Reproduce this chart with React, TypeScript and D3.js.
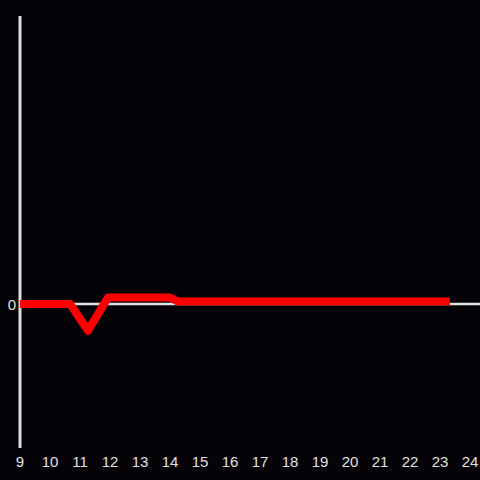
import React from "react";
import * as d3 from "d3";

const hours = [9, 10.67, 11.27, 11.93, 14.0, 14.27, 23.33];
const values = [0, 0, -0.185, 0.045, 0.045, 0.017, 0.017];
const xTicks = [9, 10, 11, 12, 13, 14, 15, 16, 17, 18, 19, 20, 21, 22, 23, 24];
const yTicks = [0];

export default function App() {
  const W = 480, H = 480;
  const x = d3.scaleLinear().domain([9, 24]).range([20, 470]);
  const y = d3.scaleLinear().domain([-1, 2]).range([448, 16]);
  const pts: [number, number][] = hours.map((h, i) => [h, values[i]]);
  const line = d3.line<[number, number]>().x(d => x(d[0])).y(d => y(d[1]));
  const axisColor = "#e0e0e0";
  return (
    <svg width={W} height={H} style={{ position: "fixed", left: 0, top: 0, background: "#050307" }}>
      <rect x={0} y={0} width={W} height={H} fill="#050307" />
      <line x1={20} x2={20} y1={16} y2={448} stroke={axisColor} strokeWidth={3} />
      <line x1={20} x2={480} y1={y(0)} y2={y(0)} stroke={axisColor} strokeWidth={2.5} />
      {xTicks.map(t => (
        <text key={t} x={x(t)} y={466.5} textAnchor="middle" fill={axisColor}
          fontFamily="'Liberation Sans', Arial, sans-serif" fontSize={15}>{t}</text>
      ))}
      {yTicks.map(t => (
        <text key={t} x={16} y={y(t) + 5.5} textAnchor="end" fill={axisColor}
          fontFamily="'Liberation Sans', Arial, sans-serif" fontSize={15}>{t}</text>
      ))}
      <path d={line(pts) || ""} fill="none" stroke="#ff0000" strokeWidth={8} strokeLinejoin="round" />
    </svg>
  );
}
